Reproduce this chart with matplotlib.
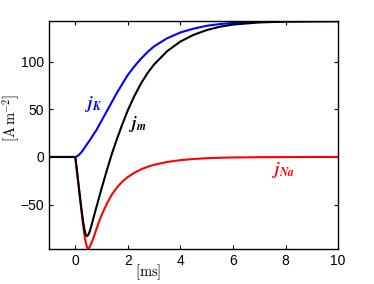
import matplotlib
matplotlib.use("Agg")
import matplotlib.pyplot as plt

plt.rcParams['mathtext.fontset'] = 'cm'
plt.rcParams['font.family'] = ['Liberation Sans', 'DejaVu Sans']

# time [ms]
t = [-1, 0, 0.05, 0.1, 0.15, 0.2, 0.25, 0.3, 0.35, 0.4, 0.45, 0.5, 0.55, 0.6,
     0.7, 0.8, 0.9, 1.0, 1.2, 1.4, 1.6, 1.8, 2.0, 2.25, 2.5, 2.75, 3.0, 3.5,
     4.0, 4.5, 5.0, 5.5, 6.0, 7.0, 8.0, 9.0, 10.0]

# current densities [A m^-2]
j_K = [0, 0, 0.5, 1.5, 2.5, 4, 5.5, 7.5, 9.5, 11.5, 13.5, 15.5, 17.5, 19.5,
       24, 28, 33, 38, 48, 58, 68, 77, 86, 95, 103, 110, 116, 124.5,
       130.5, 134.5, 137.5, 139.3, 140.5, 141.7, 142, 142.2, 142.3]

j_Na = [0, 0, -12, -24, -36, -48, -60, -72, -82, -90, -95, -96, -94.5, -91,
        -84, -76, -68, -61, -49, -39, -31.5, -25.5, -21, -16.5, -13, -10.3, -8.2, -5.2,
        -3.3, -2.1, -1.3, -0.8, -0.5, -0.2, -0.1, 0, 0]

j_m = [0, 0, -11, -23, -35, -47, -58, -68, -76, -81.5, -83, -81.5, -78, -73.5,
       -63, -53, -43, -33, -14, 4, 20, 35, 49, 64, 77, 88, 97, 111,
       121, 128, 133, 136.5, 138.8, 141, 141.9, 142.2, 142.3]

fig = plt.figure(figsize=(3.74, 2.84), dpi=100)
ax = fig.add_axes([0.131, 0.123, 0.773, 0.803])

ax.plot(t, j_K, color='#0000ff', linewidth=1.5)
ax.plot(t, j_Na, color='#ff0000', linewidth=1.5)
ax.plot(t, j_m, color='black', linewidth=1.5)

ax.set_xlim(-1, 10)
ax.set_ylim(-96.5, 142.5)
ax.set_xticks([0, 2, 4, 6, 8, 10])
ax.set_yticks([-50, 0, 50, 100])
ax.tick_params(direction='in', top=True, right=True, labelsize=10, length=3, width=0.8)
for s in ax.spines.values():
    s.set_linewidth(1.0)

ax.set_xlabel(r'$[\mathrm{ms}]$', fontsize=10.5)
ax.xaxis.set_label_coords(0.343, -0.06)
ax.set_ylabel(r'$[\mathrm{A\,m^{-2}}]$', fontsize=10.5)
ax.yaxis.set_label_coords(-0.092, 0.575)

ax.text(0.68, 56, r'$\mathbfit{j}_{\mathbfit{K}}$', color='#0000ff', fontsize=12, ha='center', va='center')
ax.text(2.35, 35, r'$\mathbfit{j}_{\mathbfit{m}}$', color='black', fontsize=12, ha='center', va='center')
ax.text(7.9, -14, r'$\mathbfit{j}_{\mathbfit{Na}}$', color='#ff0000', fontsize=12, ha='center', va='center')

fig.savefig('out.png', dpi=100)
